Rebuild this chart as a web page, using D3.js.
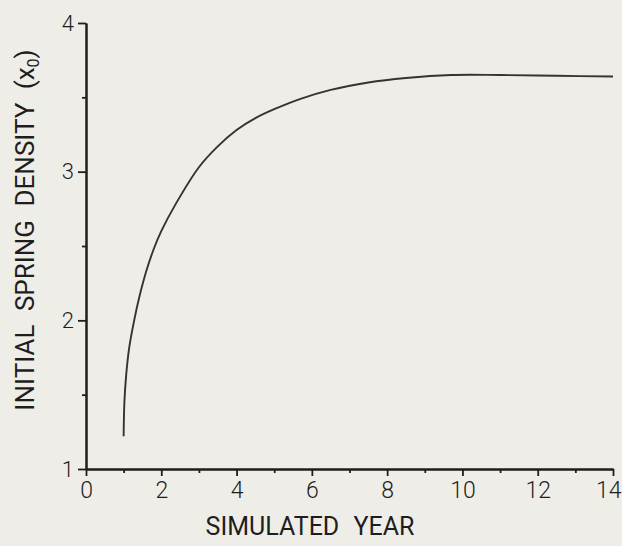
<!DOCTYPE html>
<html>
<head>
<meta charset="utf-8">
<script src="https://cdn.jsdelivr.net/npm/d3@7"></script>
<style>
  html, body { margin: 0; padding: 0; background: #eeede8; }
  svg { display: block; }
  text { font-family: Roboto, "DejaVu Sans", sans-serif; fill: #1e1e1e; font-weight: 400; }
</style>
</head>
<body>
<svg id="chart" width="622" height="546"></svg>
<script>
// ---- data ----
const years = [1.0, 1.02, 1.07, 1.15, 1.28, 1.41, 1.6, 1.8, 2.0, 2.4, 3.0, 3.5, 4.0, 4.5, 5.0, 5.7, 6.5, 7.5, 8.5, 9.7, 11.0, 12.5, 14.0];
const density = [1.22, 1.45, 1.64, 1.82, 2.00, 2.15, 2.33, 2.48, 2.60, 2.79, 3.03, 3.17, 3.28, 3.36, 3.42, 3.49, 3.55, 3.60, 3.63, 3.65, 3.65, 3.645, 3.64];
const xTicks = [0, 2, 4, 6, 8, 10, 12, 14];
const xMinorTicks = [1, 3, 5, 7, 9, 11, 13];
const yTicks = [1, 2, 3, 4];
const yMinorTicks = [1.5, 2.5, 3.5];
const xTitle = "SIMULATED YEAR";
const yTitle = "INITIAL SPRING DENSITY (x";
const yTitleSub = "0";

const svg = d3.select("#chart");
const x = d3.scaleLinear().domain([0, 14]).range([86, 613]);
const y = d3.scaleLinear().domain([1, 4]).range([469, 23]);

const ink = "#1e1e1e";

// minor ticks
const xMinor = svg.append("g").attr("transform", `translate(0,${y(1)})`)
  .call(d3.axisBottom(x).tickValues(xMinorTicks).tickSize(4).tickSizeOuter(0).tickFormat(""));
const yMinor = svg.append("g").attr("transform", `translate(${x(0)},0)`)
  .call(d3.axisLeft(y).tickValues(yMinorTicks).tickSize(4).tickSizeOuter(0).tickFormat(""));

// major axes
const xAxis = svg.append("g").attr("transform", `translate(0,${y(1)})`)
  .call(d3.axisBottom(x).tickValues(xTicks).tickSize(7).tickSizeOuter(0).tickPadding(6).tickFormat(d3.format("d")));
const yAxis = svg.append("g").attr("transform", `translate(${x(0)},0)`)
  .call(d3.axisLeft(y).tickValues(yTicks).tickSize(8).tickSizeOuter(0).tickPadding(4).tickFormat(d3.format("d")));

[xMinor, yMinor, xAxis, yAxis].forEach(g => {
  g.selectAll("path.domain").attr("stroke", ink).attr("stroke-width", 2);
  g.selectAll(".tick line").attr("stroke", ink).attr("stroke-width", 1.8);
});
xAxis.selectAll(".tick text").attr("font-size", 23).attr("fill", ink)
  .style("font-family", "Roboto, sans-serif").style("font-weight", 300);
// keep the last label inside the picture
xAxis.selectAll(".tick text").filter(d => d === 14).attr("text-anchor", "end").attr("x", 8);
yAxis.selectAll(".tick text").attr("font-size", 22).attr("fill", ink)
  .style("font-family", "Roboto, sans-serif").style("font-weight", 300);

// curve
const line = d3.line()
  .x((d, i) => x(years[i]))
  .y(d => y(d))
  .curve(d3.curveCatmullRom.alpha(0.5));
svg.append("path")
  .datum(density)
  .attr("d", line)
  .attr("fill", "none")
  .attr("stroke", "#333")
  .attr("stroke-width", 1.9);

// axis titles
svg.append("text")
  .attr("x", 310).attr("y", 535)
  .attr("text-anchor", "middle")
  .attr("font-size", 25)
  .style("word-spacing", "8px")
  .text(xTitle);

const yt = svg.append("text")
  .attr("transform", "translate(34,230) rotate(-90)")
  .attr("text-anchor", "middle")
  .attr("font-size", 26)
  .style("word-spacing", "7px");
yt.append("tspan").text(yTitle);
yt.append("tspan").attr("font-size", 16).attr("dy", 5).text(yTitleSub);
yt.append("tspan").attr("dy", -5).text(")");
</script>
</body>
</html>
